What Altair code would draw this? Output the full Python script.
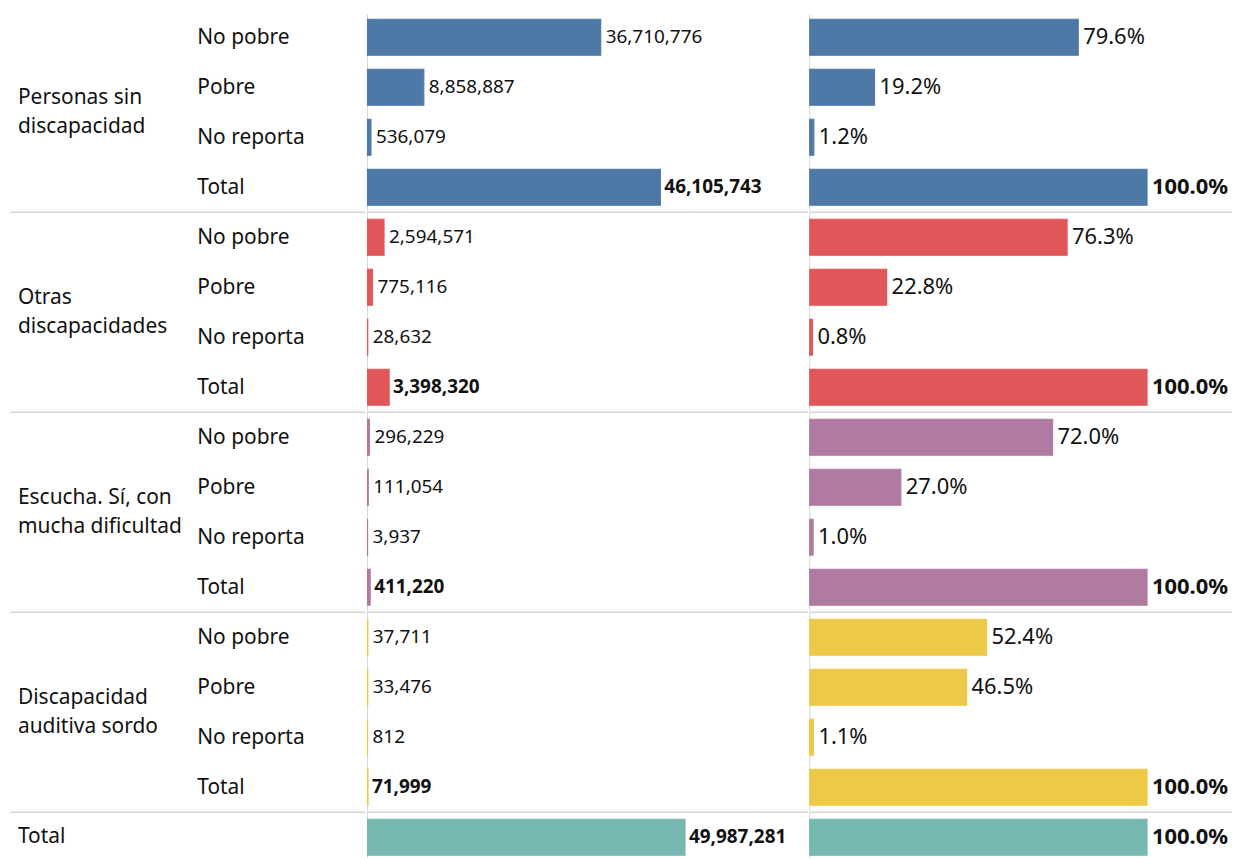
import altair as alt
import pandas as pd

# ---------------- data ----------------
group_keys = ["Personas sin discapacidad", "Otras discapacidades",
              "Escucha. Sí, con mucha dificultad", "Discapacidad auditiva sordo", "Total"]
group_labels = ["Personas sin\ndiscapacidad", "Otras\ndiscapacidades",
                "Escucha. Sí, con\nmucha dificultad", "Discapacidad\nauditiva sordo", "Total"]
sub_labels = ["No pobre", "Pobre", "No reporta", "Total"]

counts_sin = [36710776, 8858887, 536079, 46105743]
counts_otras = [2594571, 775116, 28632, 3398320]
counts_escucha = [296229, 111054, 3937, 411220]
counts_sordo = [37711, 33476, 812, 71999]
count_total = 49987281

pct_sin = [79.6, 19.2, 1.2, 100.0]
pct_otras = [76.3, 22.8, 0.8, 100.0]
pct_escucha = [72.0, 27.0, 1.0, 100.0]
pct_sordo = [52.4, 46.5, 1.1, 100.0]
pct_total = 100.0

group_colors = ["#4e79a7", "#e15759", "#b07aa1", "#edc948", "#76b7b2"]

# ---------------- tables ----------------
all_counts = [counts_sin, counts_otras, counts_escucha, counts_sordo]
all_pcts = [pct_sin, pct_otras, pct_escucha, pct_sordo]
rows = []
r = 0
for g in range(4):
    for s in range(4):
        rows.append({"row": r, "group": group_keys[g], "sub": sub_labels[s],
                     "count": all_counts[g][s], "pct": all_pcts[g][s],
                     "bold": sub_labels[s] == "Total"})
        r += 1
rows.append({"row": r, "group": "Total", "sub": "", "count": count_total,
             "pct": pct_total, "bold": True})
df = pd.DataFrame(rows)

glabels = pd.DataFrame({
    "label": group_labels,
    "center": [2.0, 6.0, 10.0, 14.0, 16.5],
    "multi": [True, True, True, True, False],
})
seps = pd.DataFrame({"y": [4, 8, 12, 16]})
vline = pd.DataFrame({"top": [0.03], "bottom": [17.0]})

FONT = "Noto Sans"
ROW_H = 50.2
Y_DOMAIN = [-0.05, 17]
HEIGHT = round((Y_DOMAIN[1] - Y_DOMAIN[0]) * ROW_H)
W_LAB, W_CNT, W_PCT = 359, 442, 424
TXT = "#111111"

yscale = alt.Scale(domain=Y_DOMAIN, reverse=True, nice=False, zero=False)
cscale = alt.Scale(domain=group_keys, range=group_colors)
color = alt.Color("group:N", scale=cscale, legend=None)
stroke = alt.Stroke("group:N", scale=cscale, legend=None)

base = alt.Chart(df).transform_calculate(
    y0="datum.row + 0.14", y1="datum.row + 0.86", yc="datum.row + 0.5",
    zero="0", pct_label="format(datum.pct, '.1f') + '%'"
)


def sep_layer(x0, width):
    return alt.Chart(seps).mark_rule(color="#d3d3d3", strokeWidth=1.5).encode(
        y=alt.Y("y:Q", scale=yscale, axis=None),
        x=alt.value(x0), x2=alt.value(width))


def vrule():
    return alt.Chart(vline).mark_rule(color="#d8d8d8", strokeWidth=1).encode(
        x=alt.value(0),
        y=alt.Y("top:Q", scale=yscale, axis=None), y2="bottom:Q")


# ---- label panel ----
lab_group_multi = alt.Chart(glabels).transform_filter("datum.multi").mark_text(
    align="left", baseline="middle", font=FONT, fontSize=21, color=TXT,
    lineBreak="\n", lineHeight=29, dy=-14.5
).encode(
    y=alt.Y("center:Q", scale=yscale, axis=None),
    x=alt.value(10),
    text="label:N")
lab_group_single = alt.Chart(glabels).transform_filter("!datum.multi").mark_text(
    align="left", baseline="middle", font=FONT, fontSize=21, color=TXT
).encode(
    y=alt.Y("center:Q", scale=yscale, axis=None),
    x=alt.value(10),
    text="label:N")

lab_sub = base.mark_text(align="left", baseline="middle", font=FONT, fontSize=21,
                         color=TXT, dy=1).encode(
    y=alt.Y("yc:Q", scale=yscale, axis=None),
    x=alt.value(190),
    text="sub:N")

label_panel = alt.layer(sep_layer(2, W_LAB), lab_group_multi, lab_group_single, lab_sub).properties(
    width=W_LAB, height=HEIGHT)

# ---- count panel ----
xc = alt.Scale(domain=[0, 69316000], nice=False, zero=True)
cnt_bars = base.mark_bar(strokeWidth=1.2).encode(
    x=alt.X("count:Q", scale=xc, axis=None), x2="zero:Q",
    y=alt.Y("y0:Q", scale=yscale, axis=None), y2="y1:Q",
    color=color, stroke=stroke)
cnt_text = base.transform_filter("!datum.bold").mark_text(
    align="left", baseline="middle", dx=5, font=FONT, fontSize=19, color=TXT
).encode(x=alt.X("count:Q", scale=xc, axis=None),
         y=alt.Y("yc:Q", scale=yscale, axis=None),
         text=alt.Text("count:Q", format=","))
cnt_text_b = base.transform_filter("datum.bold").mark_text(
    align="left", baseline="middle", dx=4, font=FONT, fontSize=19, fontWeight="bold",
    color=TXT
).encode(x=alt.X("count:Q", scale=xc, axis=None),
         y=alt.Y("yc:Q", scale=yscale, axis=None),
         text=alt.Text("count:Q", format=","))
count_panel = alt.layer(sep_layer(0, W_CNT), vrule(), cnt_bars, cnt_text, cnt_text_b).properties(
    width=W_CNT, height=HEIGHT)

# ---- percent panel ----
xp = alt.Scale(domain=[0, 125.2], nice=False, zero=True)
pct_bars = base.mark_bar(strokeWidth=1.2).encode(
    x=alt.X("pct:Q", scale=xp, axis=None), x2="zero:Q",
    y=alt.Y("y0:Q", scale=yscale, axis=None), y2="y1:Q",
    color=color, stroke=stroke)
pct_text = base.transform_filter("!datum.bold").mark_text(
    align="left", baseline="middle", dx=5, font=FONT, fontSize=22, color=TXT
).encode(x=alt.X("pct:Q", scale=xp, axis=None),
         y=alt.Y("yc:Q", scale=yscale, axis=None),
         text="pct_label:N")
pct_text_b = base.transform_filter("datum.bold").mark_text(
    align="left", baseline="middle", dx=5, font=FONT, fontSize=22, fontWeight="bold",
    color=TXT
).encode(x=alt.X("pct:Q", scale=xp, axis=None),
         y=alt.Y("yc:Q", scale=yscale, axis=None),
         text="pct_label:N")
pct_panel = alt.layer(sep_layer(0, W_PCT), vrule(), pct_bars, pct_text, pct_text_b).properties(
    width=W_PCT, height=HEIGHT)

chart = alt.hconcat(label_panel, count_panel, pct_panel, spacing=0).properties(
    padding=0
).configure_view(stroke=None).configure_concat(spacing=0)

chart.save("out.html", embed_options={"renderer": "svg", "actions": False})
